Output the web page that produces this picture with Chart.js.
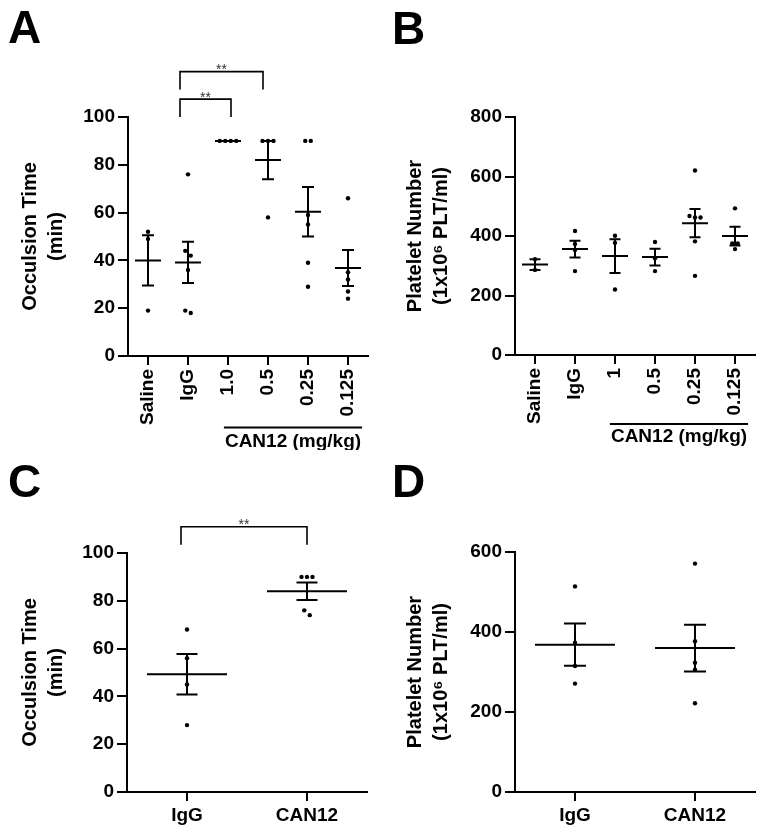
<!DOCTYPE html>
<html>
<head>
<meta charset="utf-8">
<script src="https://cdn.jsdelivr.net/npm/chart.js@4/dist/chart.umd.min.js"></script>
<style>
html,body{margin:0;padding:0;background:#fff;}
body{width:764px;height:835px;position:relative;overflow:hidden;}
canvas{position:absolute;display:block;}
</style>
</head>
<body>
<canvas id="cA" width="382" height="450" style="left:0;top:0"></canvas>
<canvas id="cB" width="382" height="450" style="left:382px;top:0"></canvas>
<canvas id="cC" width="382" height="385" style="left:0;top:450px"></canvas>
<canvas id="cD" width="382" height="385" style="left:382px;top:450px"></canvas>
<script>
// ---------------- DATA ----------------
// Panel A: occlusion time (min)
const catsA = ['Saline', 'IgG', '1.0', '0.5', '0.25', '0.125'];
const occA_saline = [52, 49, 19];
const occA_igg    = [76, 44, 42, 36, 19, 18];
const occA_10     = [90, 90, 90, 90];
const occA_05     = [90, 90, 90, 58];
const occA_025    = [90, 90, 59, 55, 39, 29];
const occA_0125   = [66, 35, 32, 27, 24];
const yTicksA = [0, 20, 40, 60, 80, 100];

// Panel B: platelet number (1x10^6 PLT/ml)
const catsB = ['Saline', 'IgG', '1', '0.5', '0.25', '0.125'];
const pltB_saline = [322, 286];
const pltB_igg    = [417, 373, 353, 282];
const pltB_1      = [401, 377, 220];
const pltB_05     = [380, 325, 282];
const pltB_025    = [620, 467, 462, 462, 382, 266];
const pltB_0125   = [493, 375, 375, 356];
const yTicksB = [0, 200, 400, 600, 800];

// Panel C: occlusion time (min)
const catsC = ['IgG', 'CAN12'];
const occC_igg   = [68, 56, 45, 28];
const occC_can12 = [90, 90, 90, 76, 74];
const yTicksC = [0, 20, 40, 60, 80, 100];

// Panel D: platelet number
const catsD = ['IgG', 'CAN12'];
const pltD_igg   = [514, 373, 315, 271];
const pltD_can12 = [571, 377, 323, 306, 222];
const yTicksD = [0, 200, 400, 600];

// significance comparisons (category indices)
const sigPairsA = [[1, 2], [1, 3]];
const sigPairsC = [[0, 1]];
const sigText = '**';
const groupText = 'CAN12 (mg/kg)';

// ---------------- DRAWING ----------------
const FONT = "'Liberation Sans', Arial, Helvetica, sans-serif";
Chart.defaults.font.family = FONT;
Chart.defaults.color = '#000';

function stats(vals) {
  const n = vals.length;
  const m = vals.reduce((a, b) => a + b, 0) / n;
  const sd = n > 1 ? Math.sqrt(vals.reduce((a, b) => a + (b - m) * (b - m), 0) / (n - 1)) : 0;
  return { mean: m, sem: sd / Math.sqrt(n) };
}

function makePanel(id, p) {
  const points = [];
  const groupOf = [];
  p.groups.forEach((vals, gi) => vals.forEach(v => { points.push({ x: p.cats[gi], y: v }); groupOf.push(gi); }));

  const panelPlugin = {
    id: 'panel_' + id,
    afterDatasetsUpdate(chart) {
      const meta = chart.getDatasetMeta(0);
      const byGroup = {};
      meta.data.forEach((el, i) => { (byGroup[groupOf[i]] = byGroup[groupOf[i]] || []).push(el); });
      Object.values(byGroup).forEach(els => {
        els.sort((a, b) => a.y - b.y);
        let cluster = [];
        const flush = () => {
          const n = cluster.length;
          cluster.forEach((el, k) => { el.x += (k - (n - 1) / 2) * p.dotGap; });
          cluster = [];
        };
        els.forEach(el => {
          if (cluster.length && el.y - cluster[cluster.length - 1].y > p.dotNear) flush();
          cluster.push(el);
        });
        flush();
      });
    },
    afterDatasetsDraw(chart) {
      const ctx = chart.ctx, xs = chart.scales.x, ys = chart.scales.y;
      ctx.save();
      ctx.strokeStyle = '#000';
      ctx.lineWidth = 2;
      p.groups.forEach((vals, gi) => {
        const s = stats(vals);
        const cx = xs.getPixelForValue(gi);
        const my = ys.getPixelForValue(s.mean);
        const ty = ys.getPixelForValue(s.mean + s.sem);
        const by = ys.getPixelForValue(s.mean - s.sem);
        ctx.beginPath();
        ctx.moveTo(cx - p.meanHalf, my); ctx.lineTo(cx + p.meanHalf, my);
        ctx.moveTo(cx, ty); ctx.lineTo(cx, by);
        ctx.moveTo(cx - p.capHalf, ty); ctx.lineTo(cx + p.capHalf, ty);
        ctx.moveTo(cx - p.capHalf, by); ctx.lineTo(cx + p.capHalf, by);
        ctx.stroke();
      });
      ctx.restore();
    },
    afterDraw(chart) {
      const ctx = chart.ctx, xs = chart.scales.x, ys = chart.scales.y;
      ctx.save();
      // significance brackets
      (p.sig || []).forEach((pair, k) => {
        const lv = p.sigLevels[k];
        const x1 = xs.getPixelForValue(pair[0]) + p.sigShiftL;
        const x2 = xs.getPixelForValue(pair[1]) + p.sigShiftR[k];
        const yt = ys.getPixelForValue(lv[0]);
        const yb = ys.getPixelForValue(lv[1]);
        ctx.strokeStyle = '#000';
        ctx.lineWidth = 1.6;
        ctx.beginPath();
        ctx.moveTo(x1, yb); ctx.lineTo(x1, yt); ctx.lineTo(x2, yt); ctx.lineTo(x2, yb);
        ctx.stroke();
        ctx.fillStyle = '#333';
        ctx.font = '14px ' + FONT;
        ctx.textAlign = 'center';
        ctx.textBaseline = 'alphabetic';
        ctx.fillText(sigText, (x1 + x2) / 2, yt + 2.5);
      });
      // group label under x axis
      if (p.group) {
        const g = p.group;
        ctx.font = 'bold 19px ' + FONT;
        const w = ctx.measureText(groupText).width;
        const cx = (xs.getPixelForValue(g.from) + xs.getPixelForValue(g.to)) / 2 + g.shift;
        const base = chart.chartArea.bottom;
        ctx.strokeStyle = '#000';
        ctx.lineWidth = 2;
        ctx.beginPath();
        ctx.moveTo(cx - w / 2 - 1, base + g.lineOff);
        ctx.lineTo(cx + w / 2 + 1, base + g.lineOff);
        ctx.stroke();
        ctx.fillStyle = '#000';
        ctx.textAlign = 'center';
        ctx.textBaseline = 'alphabetic';
        ctx.fillText(groupText, cx, base + g.textOff);
      }
      // panel letter
      ctx.fillStyle = '#000';
      ctx.font = 'bold 46px ' + FONT;
      ctx.textAlign = 'left';
      ctx.textBaseline = 'alphabetic';
      ctx.fillText(p.letter, p.letterX, p.letterY);
      ctx.restore();
    }
  };

  const axisGrid = (len) => ({
    display: true, drawOnChartArea: false, drawTicks: true,
    tickLength: len, tickWidth: 2, tickColor: '#000', color: '#000', lineWidth: 2
  });
  const axisBorder = { display: true, color: '#000', width: 2 };

  return new Chart(document.getElementById(id), {
    type: 'scatter',
    data: {
      labels: p.cats,
      datasets: [{
        data: points, showLine: false, pointRadius: 2.2, pointHoverRadius: 2.2,
        pointBackgroundColor: '#000', pointBorderWidth: 0, clip: false
      }]
    },
    options: {
      responsive: false, animation: false, events: [],
      layout: { padding: p.pad },
      plugins: { legend: { display: false }, tooltip: { enabled: false } },
      scales: {
        x: {
          type: 'category', labels: p.cats, offset: true,
          grid: axisGrid(9), border: axisBorder,
          ticks: {
            autoSkip: false, minRotation: p.rot, maxRotation: p.rot, padding: p.xPad,
            color: '#000', font: { size: 19, weight: 'bold' }
          },
          afterFit(s) { s.height = p.xH; }
        },
        y: {
          type: 'linear', min: p.yTicks[0], max: p.yTicks[p.yTicks.length - 1],
          grid: axisGrid(10), border: axisBorder,
          ticks: { padding: 3, color: '#000', font: { size: 19, weight: 'bold' } },
          afterBuildTicks(s) { s.ticks = p.yTicks.map(v => ({ value: v })); },
          title: {
            display: true, text: p.yTitle, color: '#000',
            font: { size: 20, weight: 'bold', lineHeight: 1.33 },
            padding: { top: p.titlePad, bottom: 0 }
          },
          afterFit(s) { s.width = p.yW; }
        }
      }
    },
    plugins: [panelPlugin]
  });
}

makePanel('cA', {
  cats: catsA, groups: [occA_saline, occA_igg, occA_10, occA_05, occA_025, occA_0125],
  yTicks: yTicksA, yTitle: ['Occulsion Time', '(min)'], titlePad: 17,
  pad: { left: 0, right: 14, top: 117, bottom: 0 }, yW: 128, xH: 94, rot: 90, xPad: 4,
  meanHalf: 13, capHalf: 6, dotGap: 5.5, dotNear: 5,
  sig: sigPairsA, sigLevels: [[107.5, 100], [119, 111.5]], sigShiftL: -8, sigShiftR: [3, -5],
  group: { from: 2, to: 5, shift: 5, lineOff: 71.5, textOff: 91 },
  letter: 'A', letterX: 8, letterY: 43
});

makePanel('cB', {
  cats: catsB, groups: [pltB_saline, pltB_igg, pltB_1, pltB_05, pltB_025, pltB_0125],
  yTicks: yTicksB, yTitle: ['Platelet Number', '(1x10\u2076 PLT/ml)'], titlePad: 20,
  pad: { left: 0, right: 9, top: 117, bottom: 0 }, yW: 133, xH: 95, rot: 90, xPad: 4,
  meanHalf: 13, capHalf: 5.5, dotGap: 5.5, dotNear: 5,
  group: { from: 2, to: 5, shift: 4, lineOff: 69, textOff: 87 },
  letter: 'B', letterX: 10, letterY: 44
});

makePanel('cC', {
  cats: catsC, groups: [occC_igg, occC_can12],
  yTicks: yTicksC, yTitle: ['Occulsion Time', '(min)'], titlePad: 17,
  pad: { left: 0, right: 15, top: 103, bottom: 0 }, yW: 127, xH: 43, rot: 0, xPad: 3,
  meanHalf: 40, capHalf: 10.5, dotGap: 5.5, dotNear: 5,
  sig: sigPairsC, sigLevels: [[111, 103.5]], sigShiftL: -6, sigShiftR: [0],
  letter: 'C', letterX: 8, letterY: 47
});

makePanel('cD', {
  cats: catsD, groups: [pltD_igg, pltD_can12],
  yTicks: yTicksD, yTitle: ['Platelet Number', '(1x10\u2076 PLT/ml)'], titlePad: 20,
  pad: { left: 0, right: 9, top: 102, bottom: 0 }, yW: 133, xH: 43, rot: 0, xPad: 3,
  meanHalf: 40, capHalf: 11, dotGap: 5.5, dotNear: 5,
  letter: 'D', letterX: 10, letterY: 47
});
</script>
</body>
</html>
